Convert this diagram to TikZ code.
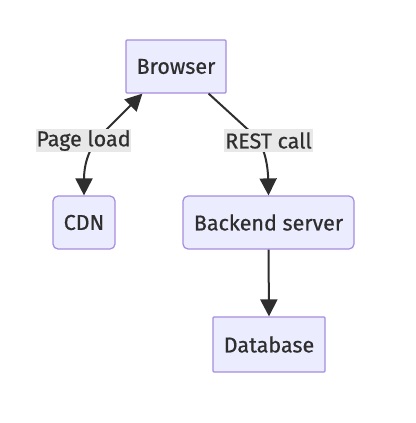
\documentclass[tikz,border=0pt]{standalone}
\usepackage{fontspec}
\setmainfont{Fira Sans}
\newfontfamily\dfont[FakeBold=0.6]{Fira Sans}
\usetikzlibrary{arrows.meta}
\definecolor{boxfill}{HTML}{ECECFF}
\definecolor{boxline}{HTML}{A58DE0}
\definecolor{ink}{HTML}{2E2E2E}
\definecolor{lblbg}{HTML}{E8E8E8}
\begin{document}
\begin{tikzpicture}[x=1pt,y=-1pt,
  box/.style={draw=boxline,fill=boxfill,line width=1.2pt,text=ink,font=\dfont\fontsize{21.5}{25}\selectfont,inner sep=0pt,minimum height=53pt},
  lbl/.style={fill=lblbg,text=ink,font=\dfont\fontsize{21.5}{25}\selectfont,inner sep=0pt,minimum height=23pt},
  arr/.style={draw=ink,line width=2pt,-{Triangle[length=17pt,width=17pt]}},
  biarr/.style={draw=ink,line width=2pt,{Triangle[length=17pt,width=17pt]}-{Triangle[length=17pt,width=17pt]}}]
\useasboundingbox (0,0) rectangle (415,423);
\fill[white] (0,0) rectangle (415,423);
\node[box,minimum width=100pt,rounded corners=1pt] (browser) at (176,66.5) {Browser};
\node[box,minimum width=62pt,rounded corners=5pt] (cdn) at (84,222.5) {CDN};
\node[box,minimum width=171pt,rounded corners=5pt] (backend) at (268.5,222.5) {Backend server};
\node[box,minimum width=112pt,minimum height=55pt,rounded corners=1pt] (db) at (269,344.5) {Database};
\coordinate (bl) at ([xshift=17pt]browser.south west);
\coordinate (br) at ([xshift=-18pt]browser.south east);
\draw[biarr] (bl) -- (102,134) .. controls (86,150) and (84,170) .. (cdn.north);
\draw[arr] (br) -- (255,136) .. controls (266,148) and (268,170) .. (backend.north);
\draw[arr] (backend.south) -- (db.north);
\node[lbl,minimum width=93pt] (pl) at (83.5,140.5) {Page load};
\node[lbl,minimum width=89pt] (rc) at (268.5,140.5) {REST call};
\end{tikzpicture}
\end{document}
